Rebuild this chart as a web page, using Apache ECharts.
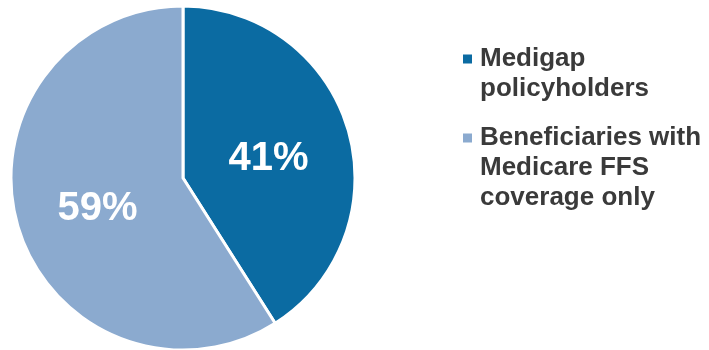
<!DOCTYPE html>
<html>
<head>
<meta charset="utf-8">
<script src="https://cdn.jsdelivr.net/npm/echarts@6/dist/echarts.min.js"></script>
<style>
  html, body { margin: 0; padding: 0; background: #fff; }
  #main { width: 709px; height: 350px; }
</style>
</head>
<body>
<div id="main"></div>
<script>
const categories = ['Medigap policyholders', 'Beneficiaries with Medicare FFS coverage only'];
const values = [41, 59];
const legendLines = [
    ['Medigap', 'policyholders'],
    ['Beneficiaries with', 'Medicare FFS', 'coverage only']
];
const colors = ['#0b6ba2', '#8baacf'];

const chart = echarts.init(document.getElementById('main'));

const option = {
    animation: false,
    legend: {
        orient: 'vertical',
        left: 452,
        top: 41,
        itemGap: 23,
        itemWidth: 0,
        itemHeight: 0,
        icon: 'rect',
        selectedMode: false,
        data: categories,
        formatter: function (name) {
            const i = categories.indexOf(name);
            return legendLines[i].map((line, k) =>
                (k === 0 ? '{sq' + i + '|}' : '{pad|}') + '{t|' + line + '}'
            ).join('\n');
        },
        textStyle: {
            rich: {
                sq0: { backgroundColor: colors[0], width: 9, height: 9, lineHeight: 30 },
                sq1: { backgroundColor: colors[1], width: 9, height: 9, lineHeight: 30 },
                pad: { width: 9, height: 9, lineHeight: 30 },
                t: {
                    fontFamily: 'Liberation Sans, Arial, sans-serif',
                    fontWeight: 'bold',
                    fontSize: 26,
                    color: '#3a3a3a',
                    lineHeight: 30,
                    padding: [0, 0, 0, 8]
                }
            }
        }
    },
    series: [
        {
            type: 'pie',
            center: [183, 178],
            radius: 172,
            startAngle: 90,
            clockwise: true,
            silent: true,
            itemStyle: {
                borderColor: '#fff',
                borderWidth: 3,
                color: (params) => colors[params.dataIndex]
            },
            label: {
                show: true,
                position: 'inside',
                formatter: '{c}%',
                color: '#fff',
                fontFamily: 'Liberation Sans, Arial, sans-serif',
                fontWeight: 'bold',
                fontSize: 40,
                offset: [0, 6]
            },
            labelLine: { show: false },
            data: categories.map((name, i) => ({ name: name, value: values[i] }))
        }
    ]
};

chart.setOption(option);
</script>
</body>
</html>
